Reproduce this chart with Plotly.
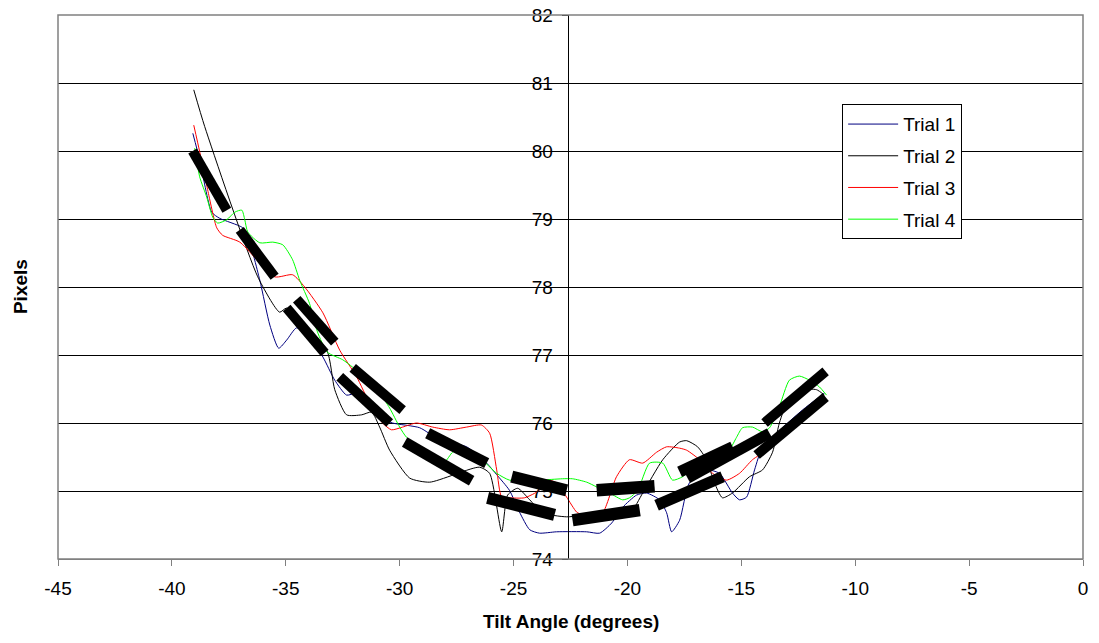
import math
import plotly.graph_objects as go

# ---------------- data ----------------
trial1_x = [-39.08, -38.78, -38.25, -37.90, -36.93, -36.71, -36.14, -35.70, -35.31, -34.96,
            -34.52, -33.95, -33.37, -32.85, -32.33, -31.89, -31.45, -30.88, -30.31, -29.12,
            -28.24, -27.06, -26.18, -25.74, -25.18, -24.74, -24.29, -23.86, -23.11, -21.79,
            -21.22, -20.69, -20.21, -19.60, -19.16, -18.59, -18.28, -18.06, -17.71, -17.28,
            -16.53, -15.96, -15.39, -15.08, -14.77, -14.42, -14.07, -13.46, -12.32, -11.35]
trial1_y = [80.26, 79.87, 79.10, 79.01, 78.88, 78.79, 78.10, 77.44, 77.10, 77.22,
            77.40, 77.25, 76.97, 76.63, 76.41, 76.44, 76.34, 76.09, 76.00, 75.93,
            75.75, 75.65, 75.41, 75.24, 75.01, 74.69, 74.43, 74.38, 74.40, 74.40,
            74.38, 74.53, 74.76, 74.94, 74.97, 74.87, 74.68, 74.40, 74.57, 75.12,
            75.31, 75.26, 74.97, 74.87, 74.91, 75.31, 75.65, 75.85, 76.19, 76.44]

trial2_x = [-39.04, -38.56, -36.23, -35.27, -34.96, -33.20, -32.85, -32.33, -31.67, -31.23,
            -30.88, -30.44, -29.56, -28.68, -26.50, -26.05, -25.52, -25.26, -24.82, -24.29,
            -23.72, -22.67, -21.09, -19.87, -19.33, -18.45, -17.71, -17.40, -16.92, -16.53,
            -16.18, -15.83, -15.39, -14.64, -14.07, -13.63, -13.33, -12.89, -12.32, -11.70,
            -11.35]
trial2_y = [80.90, 80.36, 78.15, 77.63, 77.69, 77.07, 76.49, 76.12, 76.12, 76.16,
            75.94, 75.60, 75.19, 75.13, 75.35, 75.26, 74.40, 74.94, 75.04, 74.87,
            74.68, 74.62, 74.68, 74.69, 74.97, 75.46, 75.72, 75.74, 75.65, 75.46,
            75.12, 74.90, 74.97, 75.21, 75.31, 75.57, 76.00, 76.38, 76.49, 76.49,
            76.41]

trial3_x = [-39.04, -38.78, -38.43, -38.03, -37.77, -37.02, -35.49, -34.70, -34.17, -33.37,
            -32.63, -31.89, -31.32, -30.75, -30.36, -29.87, -29.26, -28.55, -27.81, -27.06,
            -26.41, -26.05, -25.74, -25.52, -25.18, -24.52, -23.86, -23.51, -23.11, -22.67,
            -22.23, -21.97, -21.53, -21.09, -20.48, -19.91, -19.33, -18.72, -18.28, -17.71,
            -17.40, -16.83, -16.26, -15.65, -15.08, -14.51, -13.89, -13.33, -12.76, -12.14,
            -11.35]
trial3_y = [80.38, 79.99, 79.43, 78.87, 78.76, 78.66, 78.15, 78.18, 78.00, 77.62,
            77.07, 76.68, 76.29, 76.00, 75.90, 75.94, 76.00, 75.94, 75.90, 75.94,
            75.97, 75.85, 75.31, 74.91, 74.90, 74.90, 75.01, 75.16, 75.12, 74.91,
            74.69, 74.65, 74.65, 74.68, 75.21, 75.46, 75.41, 75.57, 75.65, 75.63,
            75.60, 75.46, 75.26, 75.16, 75.26, 75.46, 75.60, 75.79, 76.00, 76.16,
            76.38]

trial4_x = [-39.00, -38.78, -38.47, -38.21, -37.99, -37.59, -37.24, -36.93, -36.80, -36.67,
            -36.14, -35.57, -35.13, -34.70, -34.39, -33.96, -33.61, -33.17, -32.50, -32.06,
            -31.45, -30.88, -30.44, -30.00, -29.70, -28.68, -28.03, -27.68, -27.24, -26.49,
            -25.74, -25.18, -24.61, -23.86, -22.85, -22.41, -21.79, -21.35, -20.78, -20.21,
            -19.91, -19.55, -19.03, -18.45, -18.02, -17.58, -16.97, -16.40, -15.82, -15.52,
            -15.21, -14.95, -14.51, -14.07, -13.76, -13.33, -12.89, -12.45, -12.01, -11.57,
            -11.26]
trial4_y = [80.04, 79.62, 79.32, 79.03, 78.94, 78.99, 79.10, 79.13, 78.99, 78.81,
            78.65, 78.66, 78.62, 78.40, 78.10, 77.76, 77.34, 77.04, 76.93, 76.82,
            76.63, 76.44, 76.22, 75.94, 75.79, 75.52, 75.43, 75.57, 75.63, 75.49,
            75.26, 75.16, 75.16, 75.16, 75.18, 75.18, 75.13, 75.06, 74.97, 74.87,
            74.90, 75.01, 75.41, 75.41, 75.16, 75.21, 75.38, 75.46, 75.50, 75.60,
            75.79, 75.93, 75.94, 75.87, 75.93, 76.24, 76.63, 76.69, 76.63, 76.53,
            76.41]

# thick black measurement bands (runs of dash markers): start / end of each run
band_x0 = [-39.09, -37.02, -34.96, -34.52, -32.63, -32.06, -29.78, -28.77, -26.14, -25.08,
           -22.41, -21.35, -18.72, -17.71, -17.36, -14.33, -13.98]
band_y0 = [80.00, 78.84, 77.69, 77.82, 76.68, 76.81, 75.72, 75.85, 74.90, 75.21,
           74.57, 75.01, 74.79, 75.28, 75.19, 75.53, 76.00]
band_x1 = [-37.59, -35.49, -33.29, -32.85, -30.44, -29.87, -26.84, -26.18, -23.20, -22.67,
           -19.46, -18.81, -15.82, -15.38, -13.76, -11.30, -11.30]
band_y1 = [79.13, 78.15, 77.03, 77.19, 76.00, 76.19, 75.15, 75.41, 74.65, 75.01,
           74.72, 75.07, 75.21, 75.65, 75.85, 76.38, 76.76]

series_names = ["Trial 1", "Trial 2", "Trial 3", "Trial 4"]
series_colors = ["#000080", "#000000", "#FF0000", "#00FF00"]

x_ticks = [-45, -40, -35, -30, -25, -20, -15, -10, -5, 0]
x_tick_text = ["-45", "-40", "-35", "-30", "-25", "-20", "-15", "-10", "-5", "0"]
y_ticks = [74, 75, 76, 77, 78, 79, 80, 81, 82]

FONT = "Arial, Liberation Sans, sans-serif"

# plot-area geometry (px per data unit) used only to size the band strokes
PX_PER_X = 1025 / 45.0
PX_PER_Y = 544 / 8.0
DASH_LEN = 12.5   # length of the vertical dash markers, px
MIN_BAND = 10.0   # minimum visual band thickness, px

fig = go.Figure()

series = [(trial1_x, trial1_y), (trial2_x, trial2_y), (trial3_x, trial3_y), (trial4_x, trial4_y)]
for (xs, ys), name, col in zip(series, series_names, series_colors):
    fig.add_trace(go.Scatter(
        x=xs, y=ys, mode="lines", name=name, legendgroup=name,
        line=dict(color=col, width=1, shape="spline", smoothing=0.6),
    ))

for x0, y0, x1, y1 in zip(band_x0, band_y0, band_x1, band_y1):
    ang = math.atan2((y1 - y0) * PX_PER_Y, (x1 - x0) * PX_PER_X)
    w = max(MIN_BAND, DASH_LEN * abs(math.cos(ang)))
    fig.add_trace(go.Scatter(
        x=[x0, x1], y=[y0, y1], mode="lines", showlegend=False, hoverinfo="skip",
        line=dict(color="#000000", width=w),
    ))

fig.update_layout(
    width=1099, height=643,
    margin=dict(l=58, r=16, t=15, b=84, autoexpand=False),
    paper_bgcolor="white", plot_bgcolor="white",
    font=dict(family=FONT, size=19, color="black"),
    showlegend=True,
    legend=dict(
        x=0.765, y=0.836, xanchor="left", yanchor="top",
        bgcolor="white", bordercolor="#000000", borderwidth=1,
        font=dict(family=FONT, size=19, color="black"),
        traceorder="grouped", tracegroupgap=4, itemwidth=50,
    ),
    xaxis=dict(
        range=[-45, 0], tickvals=x_ticks, ticktext=x_tick_text, ticks="outside", ticklen=6,
        tickcolor="#808080", showline=True, linecolor="#808080", linewidth=1,
        showgrid=False, zeroline=False, tickfont=dict(family=FONT, size=19),
        automargin=False, ticklabelstandoff=6,
    ),
    yaxis=dict(
        range=[74, 82], tickvals=y_ticks, anchor="free", position=0.4973,
        ticks="outside", ticklen=6, tickcolor="#000000",
        showline=True, linecolor="#000000", linewidth=1,
        showgrid=True, gridcolor="#000000", gridwidth=1, zeroline=False,
        tickfont=dict(family=FONT, size=19), automargin=False, ticklabelstandoff=5,
    ),
    shapes=[dict(type="rect", xref="paper", yref="paper", x0=0, x1=1, y0=0, y1=1,
                 line=dict(color="#808080", width=1.5), layer="above")],
    annotations=[
        dict(text="Tilt Angle (degrees)", xref="paper", yref="paper", x=0.5, y=-0.1158,
             xanchor="center", yanchor="middle", showarrow=False,
             font=dict(family=FONT, size=19, weight="bold")),
        dict(text="Pixels", xref="paper", yref="paper", x=-0.037, y=0.5,
             xanchor="center", yanchor="middle", textangle=-90, showarrow=False,
             font=dict(family=FONT, size=19, weight="bold")),
    ],
)

fig.write_html("out.html")
